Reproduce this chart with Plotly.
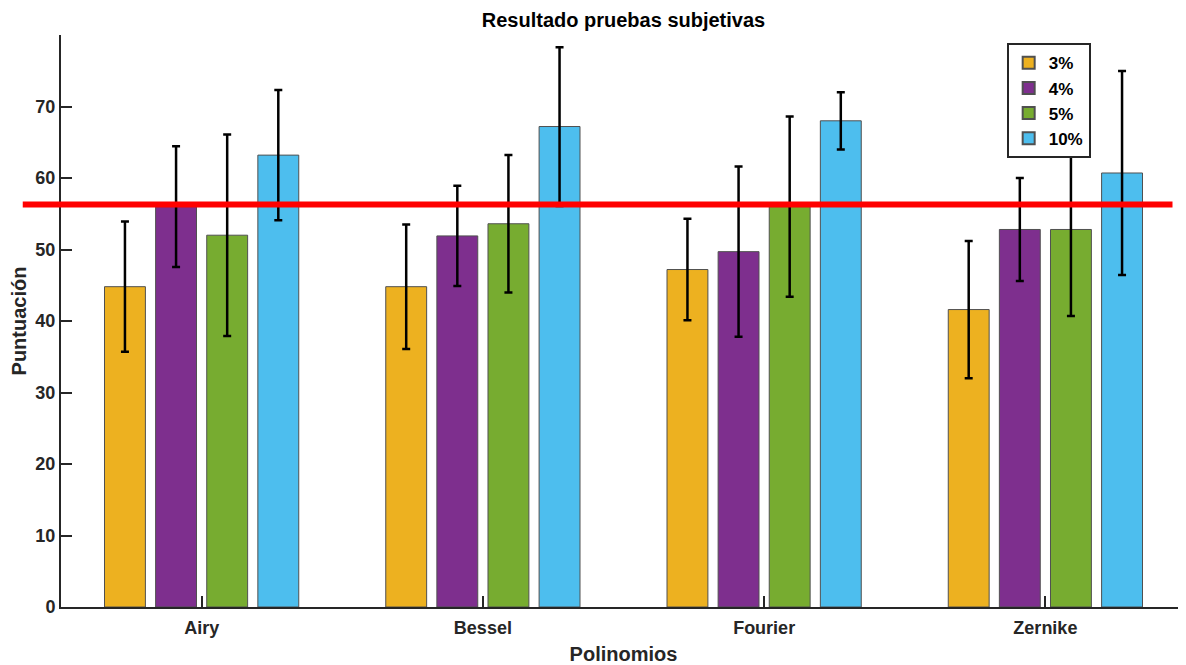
import plotly.graph_objects as go

categories = ["Airy", "Bessel", "Fourier", "Zernike"]
series_names = ["3%", "4%", "5%", "10%"]
vals_3 = [44.8, 44.8, 47.2, 41.6]
err_3 = [9.1, 8.7, 7.1, 9.6]
vals_4 = [56.0, 51.9, 49.7, 52.8]
err_4 = [8.45, 7.0, 11.9, 7.2]
vals_5 = [52.0, 53.6, 56.0, 52.8]
err_5 = [14.1, 9.6, 12.6, 12.1]
vals_10 = [63.2, 67.2, 68.0, 60.7]
err_10 = [9.1, 11.1, 4.0, 14.25]
threshold = 56.3
y_ticks = [0, 10, 20, 30, 40, 50, 60, 70]

colors = ["#EDB120", "#7E2F8E", "#77AC30", "#4DBEEE"]
FONT = "Liberation Sans, Arial, sans-serif"
TXT = "#262626"

fig = go.Figure()
for name, vals, errs, col in zip(series_names, [vals_3, vals_4, vals_5, vals_10],
                                 [err_3, err_4, err_5, err_10], colors):
    fig.add_trace(go.Bar(
        x=categories, y=vals, name=name,
        marker=dict(color=col, line=dict(color="#505050", width=1)),
        error_y=dict(type="data", array=errs, visible=True,
                     color="black", thickness=2.5, width=4),
    ))

fig.add_shape(type="line", xref="paper", yref="y",
              x0=-0.034, x1=0.988, y0=threshold, y1=threshold,
              line=dict(color="#FF0000", width=6), layer="above")

# page body adds an 8px offset; the figure is sized to compensate
fig.update_layout(
    width=1178, height=657,
    margin=dict(l=53, r=0, t=27, b=58, autoexpand=False),
    paper_bgcolor="white", plot_bgcolor="white",
    barmode="group", bargap=0.273, bargroupgap=0.2,
    font=dict(family=FONT, color=TXT, size=18, weight="bold"),
    title=dict(text="Resultado pruebas subjetivas", x=0.5, xanchor="center",
               xref="paper", y=0.981, yanchor="middle",
               font=dict(family=FONT, size=20, color="black", weight="bold")),
    showlegend=True,
    legend=dict(x=0.8406, y=0.9855, xanchor="left", yanchor="top",
                bgcolor="white", bordercolor="#262626", borderwidth=2,
                font=dict(family=FONT, size=17, color="black", weight="bold"),
                tracegroupgap=0, itemsizing="constant"),
    xaxis=dict(range=[-0.5, 3.5], showline=True, linecolor=TXT, linewidth=2,
               ticks="inside", ticklen=11, tickwidth=1.5, tickcolor=TXT,
               showgrid=False, zeroline=False, automargin=False,
               tickfont=dict(family=FONT, size=18, color=TXT, weight="bold"),
               ticklabelstandoff=3,
               title=dict(text="Polinomios", standoff=12,
                          font=dict(family=FONT, size=20, color=TXT, weight="bold"))),
    yaxis=dict(range=[0, 80], showline=True, linecolor=TXT, linewidth=2,
               tickvals=y_ticks, ticks="inside", ticklen=11, tickwidth=1.5,
               tickcolor=TXT, showgrid=False, zeroline=False, automargin=False,
               tickfont=dict(family=FONT, size=18, color=TXT, weight="bold"),
               title=dict(text="Puntuación", standoff=4,
                          font=dict(family=FONT, size=20, color=TXT, weight="bold"))),
)

fig.write_html("out.html")
